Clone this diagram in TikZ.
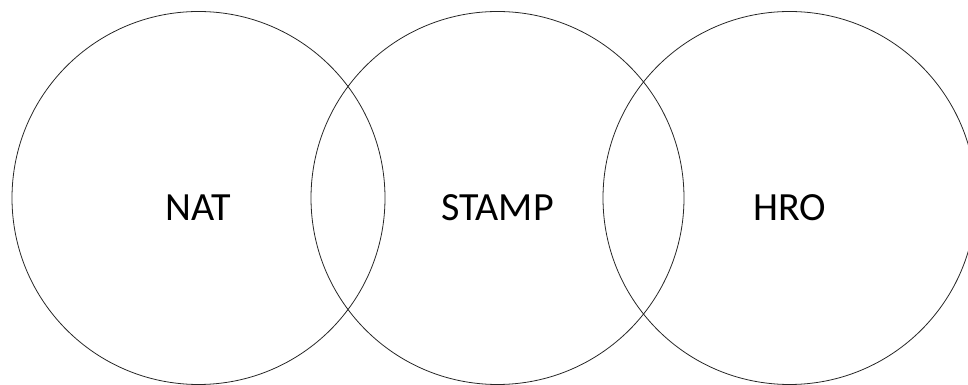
\documentclass[tikz,border=0pt]{standalone}
\usepackage{fontspec}
\setmainfont{Carlito}
\begin{document}
\begin{tikzpicture}[x=1pt,y=1pt,
  ring/.style={draw=black!85, line width=0.8pt},
  lbl/.style={font=\fontsize{40}{48}\selectfont, inner sep=0pt}]
\useasboundingbox (0,0) rectangle (968,385);
\clip (0,0) rectangle (968,385);
\draw[ring] (198.5,187) circle (186.5);
\draw[ring] (497.5,187) circle (186.5);
\draw[ring] (789.5,187) circle (186.5);
\node[lbl] (nat) at (198.5,177.5) {NAT};
\node[lbl] (stamp) at (497.5,177.5) {STAMP};
\node[lbl] (hro) at (789.5,177.5) {HRO};
\end{tikzpicture}
\end{document}
